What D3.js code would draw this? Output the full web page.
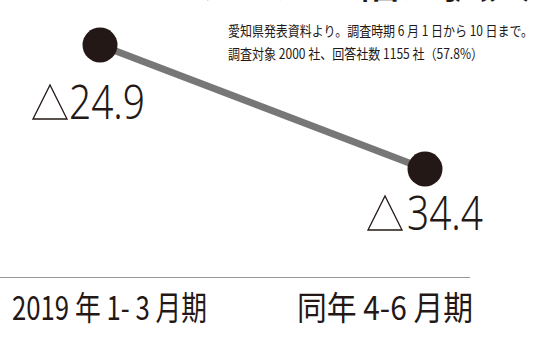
<!DOCTYPE html>
<html><head><meta charset="utf-8">
<script src="https://cdn.jsdelivr.net/npm/d3@7"></script>
<style>body{margin:0;background:#fff;}svg{display:block;}</style>
</head><body>
<script>
const categories = ["2019 年 1- 3 月期", "同年 4-6 月期"];
const values = [-24.9, -34.4];
const valueLabels = ["24.9", "34.4"];
const noteLines = ["愛知県発表資料より。調査時期 6 月 1 日から 10 日まで。", "調査対象 2000 社、回答社数 1155 社（57.8%）"];
const title = "マイナス幅が拡大";

const W = 543, H = 337, ink = "#231815";
const svg = d3.select("body").append("svg").attr("width", W).attr("height", H);

const x = d3.scalePoint().domain(categories).range([100, 425]);
const y = d3.scaleLinear().domain([-24.9, -34.4]).range([45, 169]);

// cut-off title
svg.append("text").attr("x", 180).attr("y", -2).attr("font-family", "Noto Sans CJK JP")
  .attr("font-size", 44).attr("font-weight", 500).attr("fill", ink).text(title);

// note
svg.selectAll("text.note").data(noteLines).join("text").attr("class", "note")
  .attr("x", 228).attr("y", (d, i) => 36 + i * 23)
  .attr("font-family", "Noto Sans CJK JP").attr("font-size", 14).attr("fill", ink)
  .attr("textLength", (d, i) => i === 0 ? 305 : 255).attr("lengthAdjust", "spacingAndGlyphs")
  .text(d => d);

// line
const pts = categories.map((c, i) => [x(c), y(values[i])]);
svg.append("path").attr("d", d3.line()(pts)).attr("stroke", "#777").attr("stroke-width", 7).attr("fill", "none");
svg.selectAll("circle").data(categories).join("circle")
  .attr("cx", d => x(d)).attr("cy", (d, i) => y(values[i])).attr("r", 17.5).attr("fill", ink);

// value labels
const lab = svg.selectAll("g.lab").data(categories).join("g").attr("class", "lab")
  .attr("transform", (d, i) => `translate(${x(d)},${y(values[i])})`);
lab.append("path")
  .attr("d", (d, i) => i === 0 ? "M-67,74 L-50,40 L-33,74 Z" : "M-57,61 L-40,27 L-23,61 Z")
  .attr("fill", "none").attr("stroke", ink).attr("stroke-width", 1.3);
lab.append("text").attr("x", (d, i) => i === 0 ? -31 : -18).attr("y", (d, i) => i === 0 ? 74 : 61)
  .attr("font-family", "Noto Sans").attr("font-size", 47).attr("font-weight", 300).attr("fill", ink)
  .attr("textLength", 76).attr("lengthAdjust", "spacingAndGlyphs")
  .text((d, i) => valueLabels[i]);

// baseline
svg.append("line").attr("x1", 0).attr("x2", 470).attr("y1", 277.5).attr("y2", 277.5)
  .attr("stroke", "#999").attr("stroke-width", 1.2);

// category labels
const catX = [12, 297], catW = [195, 176];
svg.selectAll("text.cat").data(categories).join("text").attr("class", "cat")
  .attr("x", (d, i) => catX[i]).attr("y", 320)
  .attr("font-family", "Noto Sans CJK JP").attr("font-size", 33).attr("fill", ink)
  .attr("textLength", (d, i) => catW[i]).attr("lengthAdjust", "spacingAndGlyphs")
  .text(d => d);
</script>
</body></html>
